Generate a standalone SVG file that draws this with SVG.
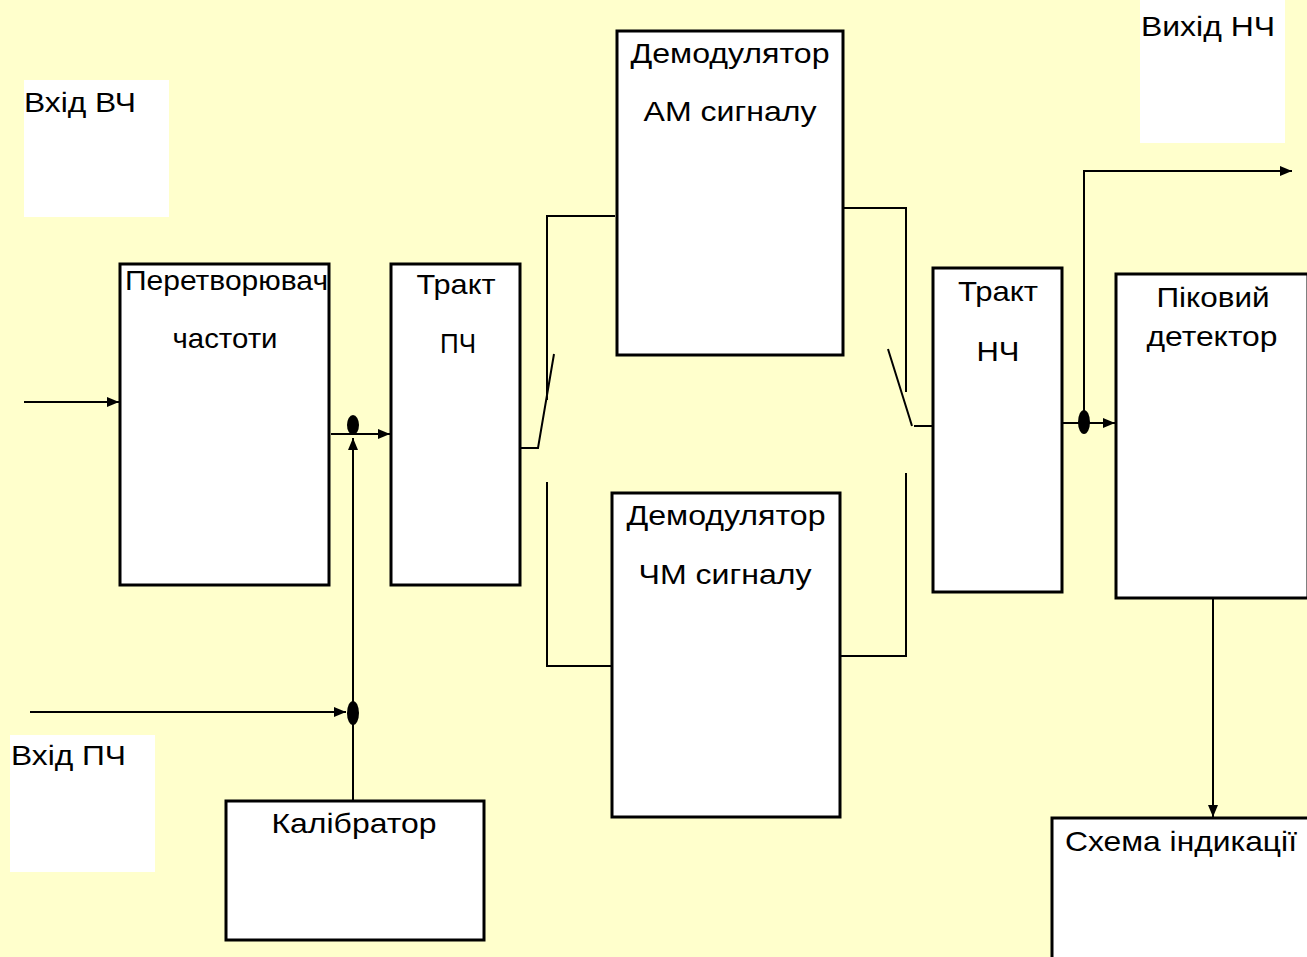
<svg xmlns="http://www.w3.org/2000/svg" width="1307" height="957" viewBox="0 0 1307 957">
<defs>
<style>
.box{fill:#fff;stroke:#000;stroke-width:3}
.lbl{fill:#fff;stroke:none}
.ln{fill:none;stroke:#000;stroke-width:2}
.t{font-family:"Liberation Sans",Arial,sans-serif;font-size:28px;fill:#000}
.c{text-anchor:middle}
.dot{fill:#000}
</style>
<marker id="ar" viewBox="0 0 12 10" refX="12" refY="5" markerWidth="12" markerHeight="10" markerUnits="userSpaceOnUse" orient="auto">
<path d="M0,0 L12,5 L0,10 Z" fill="#000"/>
</marker>
</defs>
<rect width="1307" height="957" fill="#FFFFCC"/>

<g id="label-vhid-vch"><rect class="lbl" x="24" y="80" width="145" height="137"/><text class="t" x="24" y="112" textLength="112" lengthAdjust="spacingAndGlyphs">Вхід ВЧ</text></g>
<g id="label-vyhid-nch"><rect class="lbl" x="1140" y="0" width="145" height="143"/><text class="t" x="1141" y="36" textLength="134" lengthAdjust="spacingAndGlyphs">Вихід НЧ</text></g>
<g id="label-vhid-pch"><rect class="lbl" x="10" y="735" width="145" height="137"/><text class="t" x="11" y="765" textLength="115" lengthAdjust="spacingAndGlyphs">Вхід ПЧ</text></g>

<g id="connectors">
<line class="ln" x1="24" y1="402" x2="119" y2="402" marker-end="url(#ar)"/>
<line class="ln" x1="331" y1="434" x2="390" y2="434" marker-end="url(#ar)"/>
<line class="ln" x1="353" y1="800" x2="353" y2="438" marker-end="url(#ar)"/>
<line class="ln" x1="30" y1="712" x2="346" y2="712" marker-end="url(#ar)"/>
<polyline class="ln" points="521,448 538,448 554,354"/>
<polyline class="ln" points="547,400 547,216 615,216"/>
<polyline class="ln" points="547,482 547,666 611,666"/>
<polyline class="ln" points="844,208 906,208 906,392"/>
<line class="ln" x1="888" y1="349" x2="912" y2="426"/>
<line class="ln" x1="914" y1="426" x2="932" y2="426"/>
<polyline class="ln" points="906,473 906,656 841,656"/>
<line class="ln" x1="1063" y1="423" x2="1115" y2="423" marker-end="url(#ar)"/>
<polyline class="ln" points="1084,423 1084,171 1292,171" marker-end="url(#ar)"/>
<line class="ln" x1="1213" y1="593" x2="1213" y2="817" marker-end="url(#ar)"/>
<ellipse class="dot" cx="353" cy="425" rx="6" ry="10"/>
<ellipse class="dot" cx="353" cy="713" rx="6" ry="12"/>
<ellipse class="dot" cx="1084" cy="422" rx="6" ry="12"/>
</g>

<g id="peretvoriuvach"><rect class="box" x="120" y="264" width="209" height="321"/><text class="t" x="125" y="290" textLength="203" lengthAdjust="spacingAndGlyphs">Перетворювач</text><text class="t c" x="225" y="348" textLength="105" lengthAdjust="spacingAndGlyphs">частоти</text></g>
<g id="trakt-pch"><rect class="box" x="391" y="264" width="129" height="321"/><text class="t c" x="456" y="294" textLength="79" lengthAdjust="spacingAndGlyphs">Тракт</text><text class="t c" x="458" y="353" textLength="36" lengthAdjust="spacingAndGlyphs">ПЧ</text></g>
<g id="demod-am"><rect class="box" x="617" y="31" width="226" height="324"/><text class="t c" x="730" y="63" textLength="199" lengthAdjust="spacingAndGlyphs">Демодулятор</text><text class="t c" x="730" y="121" textLength="173" lengthAdjust="spacingAndGlyphs">АМ сигналу</text></g>
<g id="demod-chm"><rect class="box" x="612" y="493" width="228" height="324"/><text class="t c" x="726" y="525" textLength="199" lengthAdjust="spacingAndGlyphs">Демодулятор</text><text class="t c" x="725" y="584" textLength="173" lengthAdjust="spacingAndGlyphs">ЧМ сигналу</text></g>
<g id="trakt-nch"><rect class="box" x="933" y="268" width="129" height="324"/><text class="t c" x="998" y="301" textLength="80" lengthAdjust="spacingAndGlyphs">Тракт</text><text class="t c" x="998" y="361" textLength="43" lengthAdjust="spacingAndGlyphs">НЧ</text></g>
<g id="pikovyi-detektor"><rect class="box" x="1116" y="274" width="192" height="324"/><text class="t c" x="1213" y="307" textLength="113" lengthAdjust="spacingAndGlyphs">Піковий</text><text class="t c" x="1212" y="346" textLength="131" lengthAdjust="spacingAndGlyphs">детектор</text></g>
<g id="kalibrator"><rect class="box" x="226" y="801" width="258" height="139"/><text class="t c" x="354" y="833" textLength="165" lengthAdjust="spacingAndGlyphs">Калібратор</text></g>
<g id="skhema-indykatsii"><rect class="box" x="1052" y="818" width="258" height="145"/><text class="t" x="1065" y="851" textLength="232" lengthAdjust="spacingAndGlyphs">Схема індикації</text></g>
</svg>
